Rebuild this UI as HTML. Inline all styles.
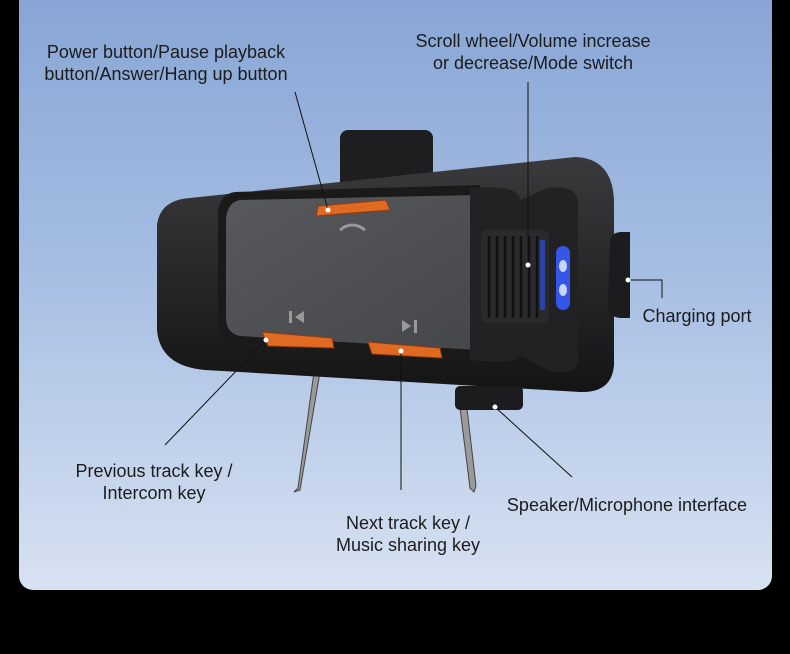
<!DOCTYPE html>
<html><head><style>
html,body{margin:0;padding:0;background:#000;}
body{width:790px;height:654px;position:relative;overflow:hidden;font-family:"Liberation Sans",sans-serif;}
.card{position:absolute;left:19px;top:-20px;width:753px;height:610px;border-radius:14px;background:linear-gradient(#86a4d4 0%,#a4bce2 45%,#d7e2f2 100%);}
.t{position:absolute;font-size:18px;color:#1c1c1c;text-align:center;line-height:22px;white-space:nowrap;}
svg{position:absolute;left:0;top:0;}
</style></head><body>
<div class="card"></div>
<svg width="790" height="654" viewBox="0 0 790 654">
<defs>
<linearGradient id="b" x1="0" y1="0" x2="0" y2="1"><stop offset="0" stop-color="#3a3a3c"/><stop offset="1" stop-color="#141415"/></linearGradient>
<linearGradient id="f" x1="0" y1="0" x2="1" y2="1"><stop offset="0" stop-color="#58595c"/><stop offset="1" stop-color="#46474a"/></linearGradient>
</defs>
<path d="M314 372 L298 488 L294 492 L300 490 L320 372Z" fill="#9a9a9a" stroke="#444" stroke-width="1"/>
<path d="M459 400 L470 488 L474 492 L476 486 L466 400Z" fill="#9a9a9a" stroke="#444" stroke-width="1"/>
<rect x="340" y="130" width="93" height="60" rx="8" fill="#1e1e20"/>
<path d="M190 198 L575 157 Q612 158 614 200 L614 365 Q612 393 580 392 L205 370 Q160 366 157 330 L157 225 Q160 200 190 198Z" fill="url(#b)"/>
<path d="M235 192 L480 185 L480 358 L235 343 Q218 340 218 320 L218 212 Q220 194 235 192Z" fill="#1a1a1b"/>
<path d="M240 200 L478 195 L478 350 L240 336 Q226 333 226 318 L226 218 Q228 202 240 200Z" fill="url(#f)"/>
<path d="M470 188 Q520 184 520 200 L548 188 Q575 185 578 200 L578 360 Q575 378 548 370 L520 355 Q518 365 470 360Z" fill="#222224"/>
<rect x="481" y="230" width="68" height="93" rx="6" fill="#2a2a2c"/>
<g stroke="#111" stroke-width="2.5">
<line x1="489" y1="236" x2="489" y2="318"/><line x1="497" y1="236" x2="497" y2="318"/><line x1="505" y1="236" x2="505" y2="318"/><line x1="513" y1="236" x2="513" y2="318"/><line x1="521" y1="236" x2="521" y2="318"/><line x1="529" y1="236" x2="529" y2="318"/><line x1="537" y1="236" x2="537" y2="318"/>
</g>
<rect x="540" y="240" width="5" height="70" fill="#2b4fd6" opacity=".7"/>
<rect x="556" y="246" width="14" height="64" rx="7" fill="#3656e8"/>
<ellipse cx="563" cy="266" rx="4" ry="6" fill="#c8d6ff"/>
<ellipse cx="563" cy="290" rx="4" ry="6" fill="#c8d6ff"/>
<path d="M610 240 Q612 232 622 232 L630 232 L630 318 L622 318 Q610 318 608 308Z" fill="#1c1c1e"/>
<rect x="455" y="386" width="68" height="24" rx="5" fill="#1c1c1e"/>
<path d="M318 206 L386 200 L390 210 L316 216Z" fill="#e06a22" stroke="#8a3a10"/>
<path d="M262 332 L332 338 L334 348 L268 346Z" fill="#e06a22" stroke="#8a3a10"/>
<path d="M368 342 L440 348 L442 358 L372 354Z" fill="#e06a22" stroke="#8a3a10"/>
<path d="M340 230 Q352 220 365 230" fill="none" stroke="#999" stroke-width="3"/>
<rect x="289" y="311" width="3" height="12" fill="#999"/><path d="M304 311 L295 317 L304 323Z" fill="#999"/>
<path d="M402 320 L411 326 L402 332Z" fill="#999"/><rect x="414" y="320" width="3" height="13" fill="#999"/>
<g stroke="#111" stroke-width="1" fill="none">
<line x1="295" y1="92" x2="328" y2="210"/>
<line x1="528" y1="82" x2="528" y2="265"/>
<polyline points="628,280 662,280 662,298"/>
<line x1="266" y1="340" x2="165" y2="445"/>
<line x1="401" y1="350" x2="401" y2="490"/>
<line x1="495" y1="407" x2="572" y2="477"/>
</g>
<g fill="#fff">
<circle cx="328" cy="210" r="2.5"/><circle cx="528" cy="265" r="2.5"/><circle cx="628" cy="280" r="2.5"/>
<circle cx="266" cy="340" r="2.5"/><circle cx="401" cy="351" r="2.5"/><circle cx="495" cy="407" r="2.5"/>
</g>
</svg>
<div class="t" style="left:26px;top:41px;width:280px;">Power button/Pause playback<br>button/Answer/Hang up button</div>
<div class="t" style="left:393px;top:30px;width:280px;">Scroll wheel/Volume increase<br>or decrease/Mode switch</div>
<div class="t" style="left:632px;top:305px;width:130px;">Charging port</div>
<div class="t" style="left:54px;top:460px;width:200px;">Previous track key /<br>Intercom key</div>
<div class="t" style="left:308px;top:512px;width:200px;">Next track key /<br>Music sharing key</div>
<div class="t" style="left:487px;top:494px;width:280px;">Speaker/Microphone interface</div>
</body></html>
